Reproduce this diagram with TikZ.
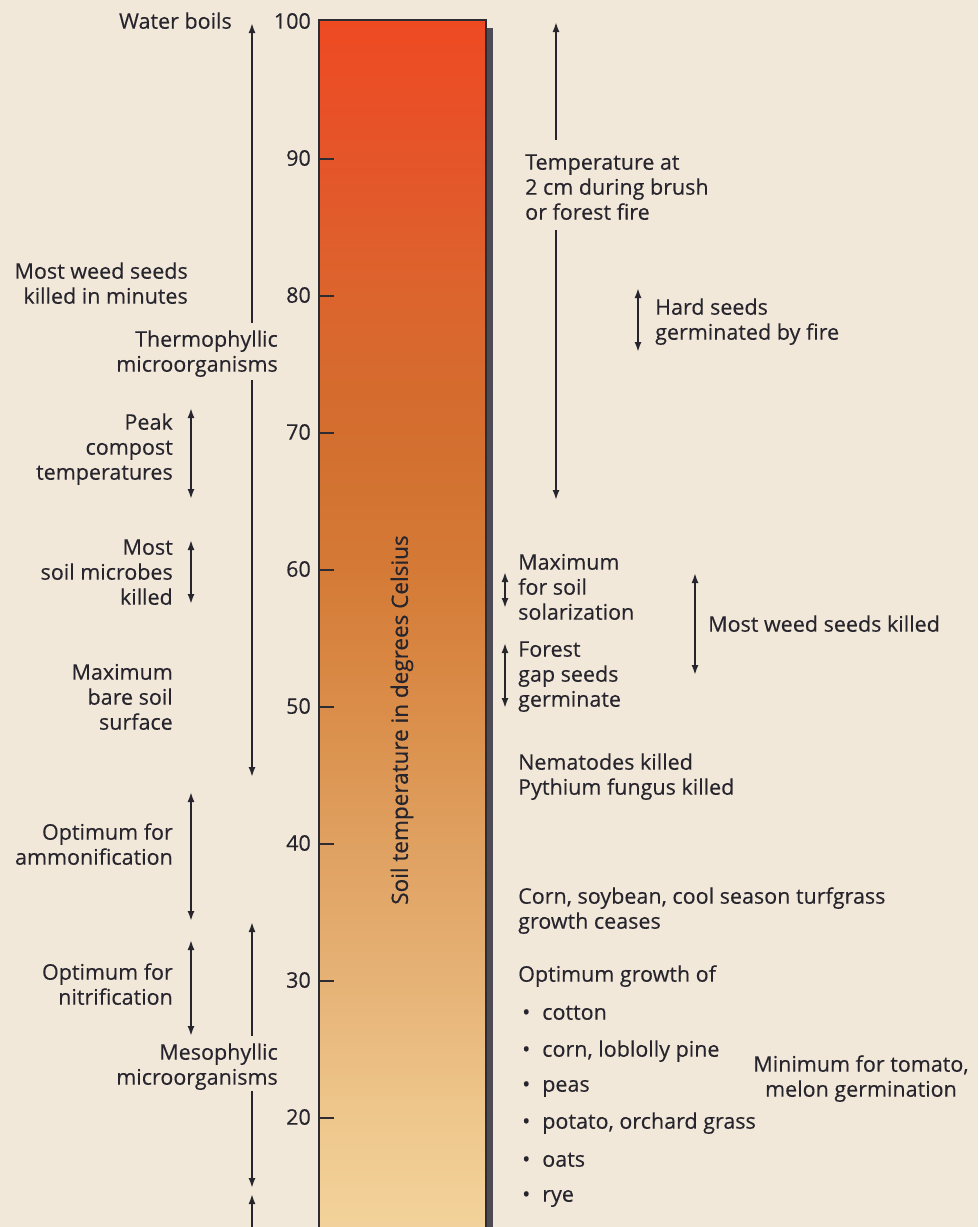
\documentclass[tikz,border=0pt]{standalone}
\usepackage{fontspec}
\setmainfont{Open Sans}
\usetikzlibrary{arrows.meta}
\definecolor{bg}{HTML}{F2E8DA}
\definecolor{ink}{HTML}{26242C}
\definecolor{barline}{HTML}{2E2C33}
\definecolor{shadowc}{HTML}{4F4B55}
\definecolor{c0}{HTML}{EE4A22}
\definecolor{c1}{HTML}{E5552A}
\definecolor{c2}{HTML}{DC652D}
\definecolor{c3}{HTML}{D36E2F}
\definecolor{c4}{HTML}{D47A36}
\definecolor{c5}{HTML}{DA8C48}
\definecolor{c6}{HTML}{DFA060}
\definecolor{c7}{HTML}{E6B276}
\definecolor{c8}{HTML}{EEC68B}
\definecolor{c9}{HTML}{F3D49C}
\pgfdeclareverticalshading{barshade}{100bp}{color(0bp)=(c9); color(25bp)=(c9); color(30.33bp)=(c8); color(35.66bp)=(c7); color(41.4bp)=(c6); color(47.13bp)=(c5); color(52.46bp)=(c4); color(58.2bp)=(c3); color(63.52bp)=(c2); color(69.26bp)=(c1); color(75bp)=(c0); color(100bp)=(c0)}
\tikzset{
  lab/.style={inner sep=0pt, text=ink, font=\fontsize{21.5}{25}\selectfont\addfontfeature{FakeBold=0.3}},
  labL/.style={lab, anchor=north east, align=right},
  labR/.style={lab, anchor=north west, align=left},
  arr/.style={draw=ink, line width=1.8pt, -{Latex[length=10pt,width=7pt]}},
  dbl/.style={draw=ink, line width=1.8pt, {Latex[length=10pt,width=7pt]}-{Latex[length=10pt,width=7pt]}},
}
\begin{document}
\begin{tikzpicture}[x=1pt,y=-1pt]
\useasboundingbox (0,0) rectangle (978,1227);
\clip (0,0) rectangle (978,1227);
\fill[bg] (0,0) rectangle (978,1227);
% bar
\fill[shadowc] (486,28) rectangle (493,1240);
\shade[shading=barshade] (319,20) rectangle (486,1240);
\draw[barline, line width=2pt] (319,1240) -- (319,20) -- (486,20) -- (486,1240);
\foreach \t in {90,80,...,20}{
  \draw[barline, line width=2pt] (319,{22+(100-\t)*13.7}) -- (334,{22+(100-\t)*13.7});
}
\foreach \t in {100,90,...,20}{
  \node[lab, anchor=north east, name=n\t] at (311,{22+(100-\t)*13.7-11}) {\strut\t};
}
\node[lab, rotate=90, name=axis, font=\fontsize{22.5}{25}\selectfont\addfontfeature{FakeBold=0.6}] at (402,720) {Soil temperature in degrees Celsius};

% left labels
\node[labL, name=water] at (232,11) {\strut Water boils};
\node[labL, name=weedmin] at (188,261) {\strut Most weed seeds\\\strut killed in minutes};
\node[labL, name=thermo] at (278,329) {\strut Thermophyllic\\\strut microorganisms};
\node[labL, name=peak] at (173,412) {\strut Peak\\\strut compost\\\strut temperatures};
\node[labL, name=microbes] at (173,537) {\strut Most\\\strut soil microbes\\\strut killed};
\node[labL, name=bare] at (173,662) {\strut Maximum\\\strut bare soil\\\strut surface};
\node[labL, name=ammon] at (173,822) {\strut Optimum for\\\strut ammonification};
\node[labL, name=nitri] at (173,962) {\strut Optimum for\\\strut nitrification};
\node[labL, name=meso] at (278,1042) {\strut Mesophyllic\\\strut microorganisms};

% right labels
\node[labR, name=fire] at (525,152) {\strut Temperature at\\\strut 2 cm during brush\\\strut or forest fire};
\node[labR, name=hard] at (655,297) {\strut Hard seeds\\\strut germinated by fire};
\node[labR, name=solar] at (518,552) {\strut Maximum\\\strut for soil\\\strut solarization};
\node[labR, name=gap] at (518,639) {\strut Forest\\\strut gap seeds\\\strut germinate};
\node[labR, name=weedk] at (708,614) {\strut Most weed seeds killed};
\node[labR, name=nema] at (518,752) {\strut Nematodes killed\\\strut Pythium fungus killed};
\node[labR, name=corn] at (518,886) {\strut Corn, soybean, cool season turfgrass\\\strut growth ceases};
\node[labR, name=optg] at (518,964) {\strut Optimum growth of};
\node[labR, name=b1] at (522,1002) {\strut\textbullet\hspace{12pt}cotton};
\node[labR, name=b2] at (522,1039) {\strut\textbullet\hspace{12pt}corn, loblolly pine};
\node[labR, name=b3] at (522,1074) {\strut\textbullet\hspace{12pt}peas};
\node[labR, name=b4] at (522,1111) {\strut\textbullet\hspace{12pt}potato, orchard grass};
\node[labR, name=b5] at (522,1149) {\strut\textbullet\hspace{12pt}oats};
\node[labR, name=b6] at (522,1184) {\strut\textbullet\hspace{12pt}rye};
\node[lab, anchor=north, align=center, name=tomato] at (861,1054) {\strut Minimum for tomato,\\\strut melon germination};

% arrow end coordinates
\coordinate (thT) at (252,23);
\coordinate (thB) at (252,777);
\coordinate (meT) at (252,922);
\coordinate (meB) at (252,1188);
\coordinate (lwT) at (252,1194);
\coordinate (lwB) at (252,1240);
\coordinate (frT) at (556,22);
\coordinate (frB) at (556,500);
\coordinate (pkT) at (191,408);
\coordinate (pkB) at (191,499);
\coordinate (mcT) at (191,540);
\coordinate (mcB) at (191,604);
\coordinate (amT) at (191,792);
\coordinate (amB) at (191,921);
\coordinate (niT) at (191,940);
\coordinate (niB) at (191,1036);
\coordinate (hdT) at (638,288);
\coordinate (hdB) at (638,352);
\coordinate (soT) at (505,572);
\coordinate (soB) at (505,608);
\coordinate (gpT) at (505,643);
\coordinate (gpB) at (505,708);
\coordinate (wkT) at (695,573);
\coordinate (wkB) at (695,675);

% split arrows
\draw[arr] ([yshift=6pt]thermo.north -| thT) -- (thT);
\draw[arr] ([yshift=-1pt]thermo.south -| thB) -- (thB);
\draw[arr] ([yshift=6pt]meso.north -| meT) -- (meT);
\draw[arr] ([yshift=1pt]meso.south -| meB) -- (meB);
\draw[arr] (lwB) -- (lwT);
\draw[arr] ([yshift=12pt]fire.north -| frT) -- (frT);
\draw[arr] ([yshift=-3pt]fire.south -| frB) -- (frB);
% double arrows
\draw[dbl] (pkT) -- (pkB);
\draw[dbl] (mcT) -- (mcB);
\draw[dbl] (amT) -- (amB);
\draw[dbl] (niT) -- (niB);
\draw[dbl] (hdT) -- (hdB);
\draw[dbl] (soT) -- (soB);
\draw[dbl] (gpT) -- (gpB);
\draw[dbl] (wkT) -- (wkB);
\end{tikzpicture}
\end{document}
